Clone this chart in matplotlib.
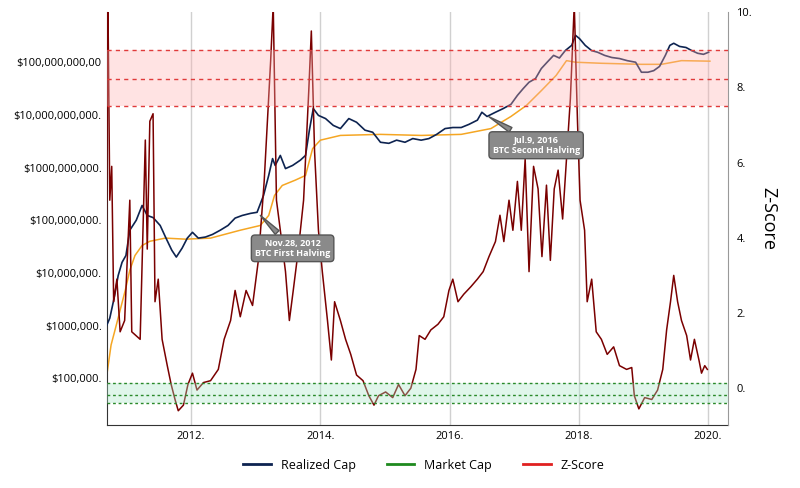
import matplotlib
matplotlib.use("Agg")
import matplotlib.pyplot as plt
from matplotlib.lines import Line2D
import numpy as np

plt.rcParams["font.family"] = "Open Sans"

z_years = [2010.68,2010.71,2010.74,2010.77,2010.80,2010.85,2010.90,2010.97,2011.05,2011.08,2011.21,2011.29,2011.32,2011.36,2011.41,2011.44,2011.49,2011.55,2011.63,2011.69,2011.75,2011.80,2011.88,2011.95,2012.02,2012.09,2012.19,2012.30,2012.42,2012.51,2012.61,2012.68,2012.76,2012.85,2012.95,2013.04,2013.13,2013.23,2013.27,2013.32,2013.38,2013.46,2013.52,2013.58,2013.66,2013.74,2013.82,2013.86,2013.91,2013.97,2014.03,2014.11,2014.17,2014.22,2014.31,2014.39,2014.47,2014.56,2014.66,2014.75,2014.83,2014.90,2015.01,2015.12,2015.21,2015.31,2015.40,2015.48,2015.53,2015.62,2015.71,2015.82,2015.91,2015.99,2016.05,2016.13,2016.22,2016.33,2016.43,2016.52,2016.61,2016.71,2016.78,2016.84,2016.92,2016.98,2017.05,2017.11,2017.17,2017.23,2017.30,2017.37,2017.43,2017.50,2017.56,2017.62,2017.68,2017.75,2017.81,2017.87,2017.93,2017.98,2018.02,2018.09,2018.13,2018.20,2018.27,2018.35,2018.44,2018.54,2018.63,2018.74,2018.82,2018.86,2018.93,2019.02,2019.13,2019.22,2019.30,2019.36,2019.42,2019.47,2019.53,2019.59,2019.67,2019.73,2019.79,2019.86,2019.90,2019.95,2019.99]
z_values = [1.5,10.5,5.0,5.9,2.3,2.9,1.5,1.8,5.0,1.5,1.3,6.6,3.7,7.1,7.3,2.3,2.9,1.3,0.6,0.1,-0.3,-0.6,-0.45,0.1,0.4,-0.05,0.15,0.2,0.5,1.3,1.8,2.6,1.9,2.6,2.2,3.4,5.5,8.7,10.2,5.0,4.2,3.1,1.8,2.6,3.7,5.0,7.9,9.5,6.3,4.2,3.1,1.8,0.75,2.3,1.8,1.3,0.9,0.35,0.2,-0.2,-0.45,-0.2,-0.1,-0.25,0.1,-0.2,0.0,0.5,1.4,1.3,1.55,1.7,1.9,2.6,2.9,2.3,2.5,2.7,2.9,3.1,3.5,3.9,4.6,3.9,5.0,4.2,5.5,4.2,6.1,3.1,5.9,5.3,3.5,5.4,3.4,5.3,5.8,4.5,6.1,7.7,10.2,7.1,5.0,4.2,2.3,2.9,1.5,1.3,0.9,1.1,0.6,0.5,0.55,-0.2,-0.55,-0.25,-0.3,-0.05,0.5,1.55,2.3,3.0,2.3,1.8,1.4,0.75,1.3,0.75,0.4,0.6,0.5]

rc_years = [2010.66,2010.74,2010.80,2010.87,2010.93,2010.99,2011.05,2011.15,2011.24,2011.32,2011.41,2011.52,2011.61,2011.70,2011.77,2011.86,2011.94,2012.02,2012.11,2012.22,2012.33,2012.45,2012.57,2012.68,2012.79,2012.92,2013.02,2013.12,2013.20,2013.26,2013.30,2013.38,2013.46,2013.57,2013.69,2013.77,2013.83,2013.89,2013.97,2014.08,2014.20,2014.31,2014.44,2014.56,2014.69,2014.81,2014.93,2015.06,2015.18,2015.31,2015.43,2015.56,2015.68,2015.80,2015.93,2016.05,2016.18,2016.30,2016.43,2016.50,2016.58,2016.71,2016.83,2016.95,2017.05,2017.14,2017.23,2017.33,2017.42,2017.51,2017.61,2017.70,2017.79,2017.89,2017.95,2018.01,2018.10,2018.20,2018.29,2018.40,2018.51,2018.63,2018.75,2018.88,2018.97,2019.07,2019.16,2019.25,2019.34,2019.41,2019.47,2019.56,2019.66,2019.75,2019.84,2019.93,2020.01]
rc_log = [5.91,6.14,6.48,6.95,7.2,7.33,7.81,8.0,8.28,8.09,8.05,7.9,7.66,7.43,7.3,7.47,7.66,7.77,7.66,7.68,7.73,7.81,7.9,8.04,8.09,8.13,8.15,8.47,8.85,9.17,9.04,9.23,8.98,9.04,9.14,9.23,9.71,10.12,9.99,9.93,9.8,9.74,9.93,9.86,9.71,9.67,9.48,9.46,9.52,9.48,9.55,9.52,9.55,9.63,9.74,9.76,9.76,9.82,9.9,10.05,9.97,10.05,10.12,10.2,10.37,10.5,10.62,10.69,10.88,11.0,11.13,11.08,11.22,11.32,11.51,11.45,11.32,11.22,11.19,11.13,11.09,11.07,11.03,11.0,10.81,10.81,10.84,10.92,11.13,11.32,11.36,11.3,11.28,11.22,11.17,11.15,11.19]

mc_years = [2010.70,2010.76,2010.82,2010.90,2010.98,2011.05,2011.13,2011.24,2011.36,2011.60,2011.91,2012.30,2012.76,2013.07,2013.20,2013.29,2013.41,2013.61,2013.77,2013.88,2014.00,2014.31,2014.93,2015.56,2016.18,2016.64,2016.95,2017.19,2017.42,2017.65,2017.81,2017.95,2018.35,2018.97,2019.28,2019.59,2020.03]
mc_log = [5.11,5.63,5.91,6.29,6.67,7.05,7.33,7.52,7.6,7.66,7.64,7.66,7.81,7.9,8.09,8.47,8.66,8.76,8.85,9.36,9.52,9.61,9.63,9.61,9.63,9.74,9.97,10.18,10.46,10.75,11.03,11.0,10.98,10.96,10.96,11.03,11.02]

x_ticks = [2012, 2014, 2016, 2018, 2020]
x_labels = ["2012.", "2014.", "2016.", "2018.", "2020."]
y_ticks = [1e5, 1e6, 1e7, 1e8, 1e9, 1e10, 1e11]
y_labels = ["$100,000.", "$1000,000.", "$10,000,000.", "$100,000,000.", "$1000,000,000.", "$10,000,000,000.", "$100,000,000,00"]
z_ticks = [0, 2, 4, 6, 8, 10]
z_labels = ["0.", "2.", "4.", "6.", "8.", "10."]
red_band = [7.5, 8.22, 9.0]
green_band = [-0.4, -0.19, 0.13]

fig = plt.figure(figsize=(8, 4.88), dpi=100)
ax = fig.add_axes([0.134, 0.129, 0.776, 0.846])
ax.set_yscale("log")
ax.set_xlim(2010.70, 2020.31)
ax.set_ylim(10**4.11, 10**11.95)
for x in x_ticks:
    ax.axvline(x, color="#d0d0d0", lw=1, zorder=0)
ax.plot(mc_years, 10**np.array(mc_log), color="#f5a623", lw=1.1, zorder=2)
ax.plot(rc_years, 10**np.array(rc_log), color="#0d2350", lw=1.2, zorder=3)
ax.set_xticks(x_ticks)
ax.set_xticklabels(x_labels, fontsize=8)
ax.set_yticks(y_ticks)
ax.set_yticklabels(y_labels, fontsize=8)
ax.minorticks_off()
ax.tick_params(length=0, pad=4)
ax.spines["top"].set_visible(False)
ax.spines["right"].set_visible(False)
ax.spines["left"].set_color("#333333")
ax.spines["bottom"].set_color("#333333")

tz = ax.twinx()
tz.set_ylim(-0.98, 10)
tz.plot(z_years, z_values, color="#7a0000", lw=1.1, zorder=2)
tz.axhspan(red_band[0], red_band[2], color="#ffb0b0", alpha=0.35, lw=0, zorder=3)
for v in red_band:
    tz.axhline(v, color="#e03a3a", ls=(0, (3, 3)), lw=1, zorder=4)
tz.axhspan(green_band[0], green_band[2], color="#a8e8c8", alpha=0.35, lw=0, zorder=3)
for v in green_band:
    tz.axhline(v, color="#2a8a2a", ls=(0, (2, 2)), lw=1, zorder=4)
tz.set_yticks(z_ticks)
tz.set_yticklabels(z_labels, fontsize=8)
tz.tick_params(length=0, pad=6)
for s in ["top", "left", "bottom"]:
    tz.spines[s].set_visible(False)
tz.spines["right"].set_color("#999999")
tz.set_ylabel("Z-Score", rotation=270, fontsize=13, labelpad=18)

bb = dict(boxstyle="round,pad=0.4", fc="#8a8a8a", ec="#555555", lw=1)
ap = dict(arrowstyle="wedge,tail_width=0.6", fc="#8a8a8a", ec="#555555", lw=1)
tz.annotate("Nov.28, 2012\nBTC First Halving", xy=(2013.04, 4.65), xytext=(2013.57, 3.72),
            ha="center", va="center", fontsize=6.5, color="white", fontweight="bold",
            bbox=bb, arrowprops=ap, zorder=6)
tz.annotate("Jul.9, 2016\nBTC Second Halving", xy=(2016.57, 7.26), xytext=(2017.34, 6.46),
            ha="center", va="center", fontsize=6.5, color="white", fontweight="bold",
            bbox=bb, arrowprops=ap, zorder=6)

handles = [Line2D([], [], color="#0d2350", lw=2), Line2D([], [], color="#1e8a1e", lw=2),
           Line2D([], [], color="#e02020", lw=2)]
fig.legend(handles, ["Realized Cap", "Market Cap", "Z-Score"], loc="center",
           bbox_to_anchor=(0.53, 0.047), ncol=3, frameon=False, fontsize=9, handlelength=2.2,
           columnspacing=2.5)

fig.savefig("out.png", dpi=100)
